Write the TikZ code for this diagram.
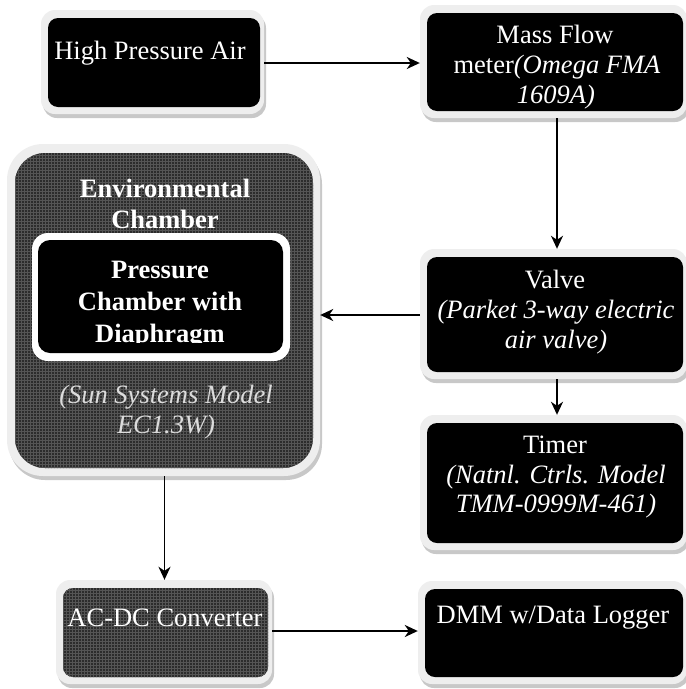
\documentclass[tikz,border=0pt]{standalone}
\usepackage{fontspec}
\setmainfont{Liberation Serif}
\usetikzlibrary{shadows,patterns,arrows.meta}
\definecolor{framegray}{HTML}{EEEEEE}
\definecolor{shadowgray}{HTML}{C8C8C8}
\definecolor{texbase}{HTML}{2C2C2C}
\definecolor{texline}{HTML}{555555}
\definecolor{subtext}{HTML}{DCDCDC}
\tikzset{
  frame/.style={rectangle, inner sep=0pt, fill=framegray, rounded corners=14pt,
    drop shadow={shadow xshift=2pt, shadow yshift=-4pt, fill=shadowgray, opacity=1}},
  blackbox/.style={rectangle, inner sep=0pt, fill=black, rounded corners=10pt},
  texbox/.style={rectangle, inner sep=0pt, preaction={fill=texbase},
    pattern=grid, pattern color=texline, rounded corners=10pt},
  lbl/.style={anchor=base, inner sep=0pt, text=white,
    font=\fontsize{26.5}{31}\selectfont},
  boldlbl/.style={lbl, font=\fontsize{26.5}{31}\selectfont\bfseries},
  sublbl/.style={lbl, text=subtext},
  flow/.style={line width=1.8pt, -{Stealth[length=13pt,width=12pt,inset=4pt]}}
}
\begin{document}
\begin{tikzpicture}[x=1pt,y=-1pt]
\useasboundingbox (0,0) rectangle (686,689);

% outer frames with their shadows
\node[frame, minimum width=223pt, minimum height=104pt] (hpaF) at (152.5,62) {};
\node[frame, minimum width=267pt, minimum height=113pt] (mfF) at (553.5,61.5) {};
\node[frame, rounded corners=36pt, minimum width=313pt, minimum height=332pt] (envF) at (163.5,310) {};
\node[frame, minimum width=267pt, minimum height=130pt] (valveF) at (553.5,314) {};
\node[frame, minimum width=267pt, minimum height=135pt] (timerF) at (553.5,482.5) {};
\node[frame, minimum width=216pt, minimum height=104pt] (acF) at (164,632) {};
\node[frame, minimum width=269pt, minimum height=103pt] (dmmF) at (552.5,632.5) {};

% box faces
\node[blackbox, minimum width=212pt, minimum height=89pt] (hpa) at (154,62.5) {};
\node[blackbox, minimum width=256pt, minimum height=98pt] (mf) at (555,62) {};
\node[texbox, rounded corners=30pt, minimum width=298pt, minimum height=315pt] (env) at (164,310.5) {};
\node[blackbox, minimum width=256pt, minimum height=115pt] (valve) at (555,314.5) {};
\node[blackbox, minimum width=256pt, minimum height=120pt] (timer) at (555,483) {};
\node[texbox, minimum width=205pt, minimum height=89pt] (ac) at (165.5,632.5) {};
\node[blackbox, minimum width=258pt, minimum height=88pt] (dmm) at (554,633) {};

% pressure chamber inside the environmental chamber
\node[rectangle, inner sep=0pt, fill=white, rounded corners=16pt,
  minimum width=258pt, minimum height=128pt] (pcF) at (161,297) {};
\node[blackbox, rounded corners=12pt, minimum width=245pt, minimum height=113pt] (pc) at (160.5,296.5) {};

% labels
\node[lbl] (hpaT) at (150,59) {High Pressure Air};

\node[lbl] (mfT1) at (555,43) {Mass Flow};
\node[lbl] (mfT2) at (557,73) {meter\textit{(Omega FMA}};
\node[lbl] (mfT3) at (556,103) {\textit{1609A)}};

\node[boldlbl] (envT1) at (165,197) {Environmental};
\node[boldlbl] (envT2) at (165,228) {Chamber};

\node[boldlbl] (pcT1) at (160,278) {Pressure};
\node[boldlbl] (pcT2) at (160,310) {Chamber with};
\begin{scope}
  \clip (38,240) rectangle (283,342);
  \node[boldlbl] (pcT3) at (160,342) {Diaphragm};
\end{scope}

\node[sublbl] (envT3) at (166,403) {\textit{(Sun Systems Model}};
\node[sublbl] (envT4) at (166,433) {\textit{EC1.3W)}};

\node[lbl] (valveT1) at (555,288) {Valve};
\node[lbl] (valveT2) at (556,318) {\textit{(Parket 3-way electric}};
\node[lbl] (valveT3) at (556,348) {\textit{air valve)}};

\node[lbl] (timerT1) at (555,453) {Timer};
\node[lbl] (timerT2) at (556,483) {\textit{(Natnl. Ctrls. Model}};
\node[lbl] (timerT3) at (556,512) {\textit{TMM-0999M-461)}};

\node[lbl] (acT) at (165,626) {AC-DC Converter};
\node[lbl] (dmmT) at (553,623) {DMM w/Data Logger};

% connectors
\draw[flow] ([yshift=-1pt]hpaF.east) -- ([yshift=-1pt]hpaF.east -| mfF.west);
\draw[flow] ([xshift=3.5pt]mfF.south) -- ([xshift=3.5pt]valveF.north);
\draw[flow] ([yshift=-1pt]valveF.west) -- ([yshift=-1pt]valveF.west -| envF.east);
\draw[flow] ([xshift=3.5pt]valveF.south) -- ([xshift=3.5pt]timerF.north);
\draw[flow] ([xshift=1pt]envF.south) -- ([xshift=1pt]envF.south |- acF.north);
\draw[flow] ([yshift=1pt]acF.east) -- ([yshift=1pt]acF.east -| dmmF.west);
\end{tikzpicture}
\end{document}
